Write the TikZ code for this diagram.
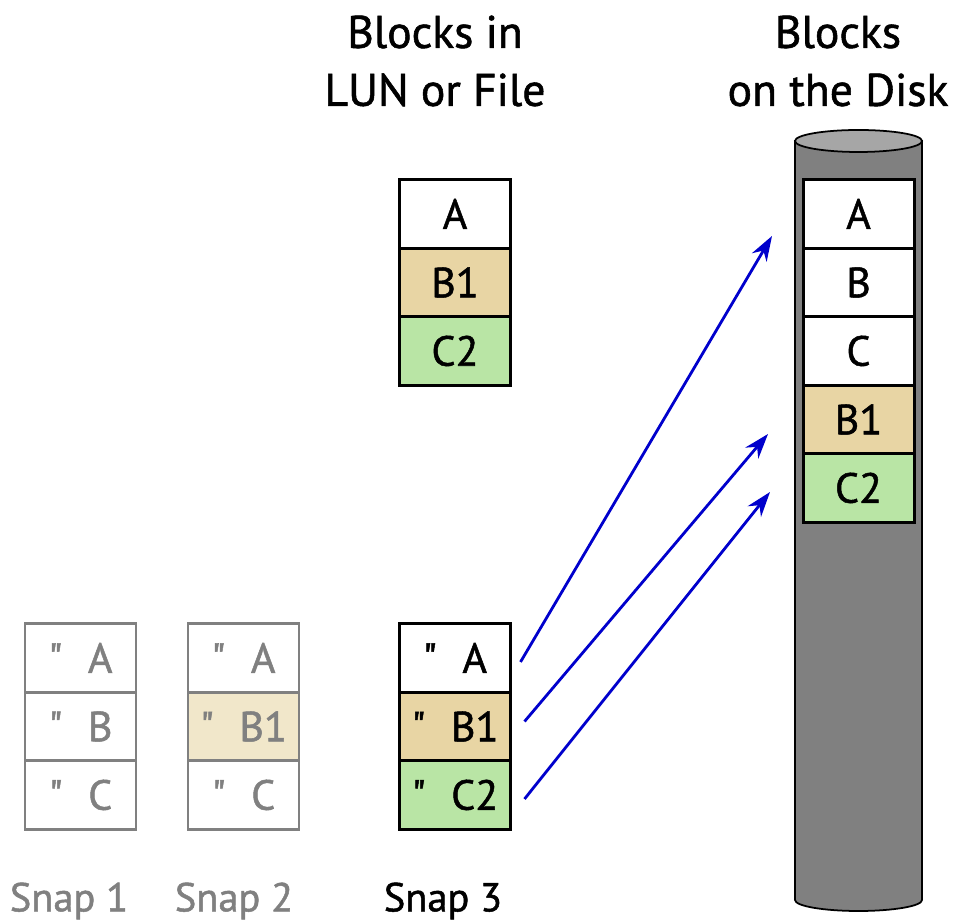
\documentclass[tikz,border=0pt]{standalone}
\usepackage{fontspec}
\setsansfont{PT Sans}[FakeBold=1.2]
\tikzset{every picture/.style={/utils/exec={\sffamily}}}
\usetikzlibrary{calc}
\usetikzlibrary{positioning}
\usetikzlibrary{chains,arrows.meta}

\definecolor{snapgray}{HTML}{808080}
\definecolor{tanfill}{HTML}{E8D5A4}
\definecolor{palefill}{HTML}{F1E7CA}
\definecolor{greenfill}{HTML}{B9E5A5}
\definecolor{linkblue}{HTML}{0000CC}
\definecolor{diskgray}{HTML}{808080}
\definecolor{disktop}{HTML}{A6A6A6}

\newcommand{\snapmark}[1]{\textquotedbl\hspace{0.6em}#1}

\tikzset{
  blk/.style={draw, line width=1.7pt, minimum width=2.22cm, minimum height=1.37cm,
    outer sep=0pt, inner sep=0pt, font=\fontsize{24}{28}\selectfont},
  oldblk/.style={blk, draw=snapgray, text=snapgray},
  title/.style={align=center, font=\fontsize{26}{33}\selectfont},
  snaplabel/.style={font=\fontsize{23}{27}\selectfont},
  link/.style={linkblue, line width=1.6pt, -{Stealth[length=0.5cm,width=0.34cm]}}
}

\begin{document}
\begin{tikzpicture}[node distance=0pt]
  \useasboundingbox (0,0) rectangle (19.08,18.48);

  % the disk
  \path[draw=black, line width=1pt, fill=diskgray] (15.9,15.66) -- (15.9,0.48)
    arc[start angle=180, end angle=360, x radius=1.27, y radius=0.22] -- (18.44,15.66) -- cycle;
  \draw[line width=1pt, fill=disktop] (17.17,15.66) ellipse [x radius=1.27, y radius=0.22];

  \node [title] (lun-title) at (8.7,17.26) {Blocks in\\LUN or File};
  \node [title] (disk-title) at (16.76,17.26) {Blocks\\on the Disk};

  \begin{scope}[start chain=lun going below, shift={(9.1,14.2)}]
    \foreach \name/\txt/\fil in {a/A/white,b1/B1/tanfill,c2/C2/greenfill} {
      \node [on chain, blk, fill=\fil] (lun-\name) {\txt};
    }
  \end{scope}

  \begin{scope}[start chain=disk going below, shift={(17.17,14.2)}]
    \foreach \name/\txt/\fil in {a/A/white,b/B/white,c/C/white,b1/B1/tanfill,c2/C2/greenfill} {
      \node [on chain, blk, fill=\fil] (disk-\name) {\txt};
    }
  \end{scope}

  \begin{scope}[start chain=snapa going below, shift={(1.61,5.32)}]
    \foreach \name/\txt in {a/A,b/B,c/C} {
      \node [on chain, oldblk, fill=white] (snap1-\name) {\snapmark{\txt}};
    }
  \end{scope}

  \begin{scope}[start chain=snapb going below, shift={(4.87,5.32)}]
    \foreach \name/\txt/\fil in {a/A/white,b1/B1/palefill,c/C/white} {
      \node [on chain, oldblk, fill=\fil] (snap2-\name) {\snapmark{\txt}};
    }
  \end{scope}

  \begin{scope}[start chain=snapc going below, shift={(9.1,5.32)}]
    \foreach \name/\txt/\fil in {a/A/white,b1/B1/tanfill,c2/C2/greenfill} {
      \node [on chain, blk, fill=\fil] (snap3-\name) {\snapmark{\txt}};
    }
  \end{scope}

  \node [snaplabel, text=snapgray] (snap1-label) at (1.38,0.46) {Snap 1};
  \node [snaplabel, text=snapgray] (snap2-label) at (4.68,0.46) {Snap 2};
  \node [snaplabel] (snap3-label) at (8.86,0.46) {Snap 3};

  % pointers from snapshot to disk
  \coordinate (in-a) at ($(disk-a.west)+(-0.62,-0.44)$);
  \coordinate (in-b1) at ($(disk-b1.west)+(-0.7,-0.29)$);
  \coordinate (in-c2) at ($(disk-c2.west)+(-0.66,-0.08)$);
  \draw [link] ($(snap3-a.east)+(0.2,-0.08)$) -- (in-a);
  \draw [link] ($(snap3-b1.east)+(0.28,0.1)$) -- (in-b1);
  \draw [link] ($(snap3-c2.east)+(0.28,-0.08)$) -- (in-c2);
\end{tikzpicture}
\end{document}
